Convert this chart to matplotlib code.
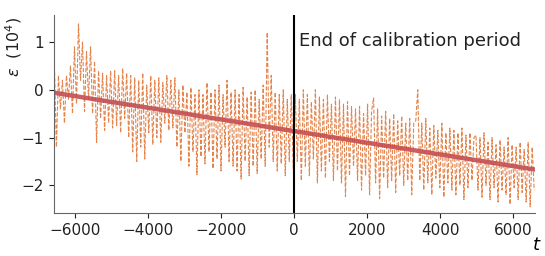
import numpy as np
import matplotlib
matplotlib.use('Agg')
import matplotlib.pyplot as plt

# epsilon values (in units of 10^4)
s1 = [0.5, -1.2, 0.3, -0.4, 0.2, -0.7, 0.3, -0.2, 0.5, -0.5, 0.9, -0.3, 1.38, 0.2, 1.0,
      -0.45, 0.8, -0.2, 0.9, -0.5, 0.6, -1.1, 0.4, -0.6, 0.35, -0.85, 0.3, -0.7, 0.4, -0.8]
s2 = [0.4, -0.75, 0.3, -0.9, 0.45, -0.6, 0.35, -1.0, 0.3, -1.3, 0.25, -1.5, 0.2, -1.2, 0.35,
      -1.45, 0.1, -0.9, 0.3, -1.15, 0.2, -1.0, 0.25, -1.1, 0.15, -0.7, 0.3, -0.85, 0.2, -0.8]
s3 = [0.25, -1.2, 0.0, -1.5, 0.1, -0.9, -0.05, -1.6, 0.05, -1.3, -0.1, -1.78, 0.0, -1.4, -0.1,
      -1.55, 0.15, -1.3, -0.05, -1.65, 0.0, -1.45, 0.1, -1.7, -0.1, -1.2, 0.2, -1.5, -0.05, -1.6]
s4 = [0.0, -1.7, -0.1, -1.87, 0.05, -1.5, -0.15, -1.8, -0.05, -1.6, 0.0, -1.75, -0.2, -1.45, 0.1,
      -1.6, 1.2, -1.2, 0.3, -1.5, -0.05, -1.7, -0.1, -1.55, 0.0, -1.8, -0.2, -1.5, -0.1, -1.65]
s5 = [-0.1, -1.5, -0.2, -1.9, 0.0, -1.6, -0.1, -1.8, -0.25, -1.45, 0.0, -1.95, -0.15, -1.7, -0.2,
      -1.85, -0.1, -1.5, -0.3, -1.9, -0.15, -1.7, -0.2, -1.95, -0.3, -2.23, -0.25, -1.8, -0.35, -1.6]
s6 = [-0.4, -1.9, -0.35, -2.1, -0.5, -1.8, -0.3, -2.2, -0.45, -0.17, -1.95, -0.4, -2.28, -0.55, -1.85,
      -0.45, -2.05, -0.6, -1.9, -0.5, -2.15, -0.65, -1.8, -0.55, -2.0, -0.7, -1.9, -0.6, -2.2, -0.7]
s7 = [-0.65, 0.0, -1.9, -0.7, -2.1, -0.6, -1.95, -0.8, -2.2, -0.75, -1.85, -0.85, -2.05, -0.7, -2.25,
      -0.9, -1.95, -0.8, -2.1, -0.85, -2.2, -0.9, -2.0, -0.8, -2.3, -0.95, -2.05, -0.9, -1.9, -1.0]
s8 = [-0.95, -2.1, -1.0, -2.25, -0.9, -2.0, -1.1, -2.3, -1.0, -2.05, -1.15, -2.35, -1.05, -2.1, -1.2,
      -2.2, -1.0, -2.4, -1.15, -2.05, -1.2, -2.3, -1.1, -2.15, -1.25, -2.35, -1.1, -2.45, -1.2, -2.1]
eps = s1 + s2 + s3 + s4 + s5 + s6 + s7 + s8
t = np.linspace(-6570, 6570, len(eps))

# linear trend
trend_t = [-6590, 6590]
trend_eps = [-0.06, -1.67]

fig = plt.figure(figsize=(5.45, 2.56), dpi=100)
ax = fig.add_axes([0.0985, 0.167, 0.883, 0.775])

ax.plot(t, eps, color='#e4844c', linestyle='--', linewidth=0.8)
ax.plot(trend_t, trend_eps, color='#c44e52', linewidth=3.2, alpha=0.9)
ax.axvline(0, color='black', linewidth=1.5)
ax.text(130, 1.02, 'End of calibration period', fontsize=13, ha='left', va='center', color='#222222')

ax.set_xlim(-6590, 6590)
ax.set_ylim(-2.585, 1.57)
ax.set_xticks([-6000, -4000, -2000, 0, 2000, 4000, 6000])
ax.set_yticks([-2, -1, 0, 1])
ax.tick_params(labelsize=11, colors='#222222', length=3.5, width=0.8)
ax.set_ylabel(r'$\varepsilon$  $(10^4)$', fontsize=11.5, color='#222222')
ax.yaxis.set_label_coords(-0.062, 0.84)
ax.set_xlabel(r'$t$', fontsize=13)
ax.xaxis.label.set_horizontalalignment('center')
ax.xaxis.set_label_coords(1.003, -0.115)

for side in ['top', 'right']:
    ax.spines[side].set_visible(False)
for side in ['left', 'bottom']:
    ax.spines[side].set_color('#666666')

fig.savefig('out.png', dpi=100)
